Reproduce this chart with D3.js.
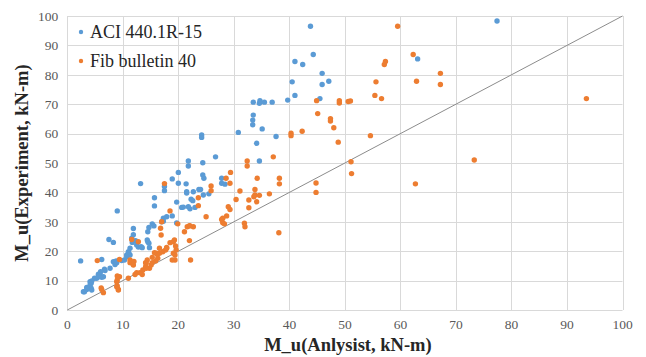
<!DOCTYPE html>
<html>
<head>
<meta charset="utf-8">
<script src="https://cdn.jsdelivr.net/npm/d3@7"></script>
<style>
  body { margin: 0; background: #fff; }
  svg { display: block; }
</style>
</head>
<body>
<div id="chart"></div>
<script>
// data: [analysis, experiment] in kN-m
const aciPoints = [
  [77.4, 98.3], [43.8, 96.5], [44.3, 86.9], [41, 84.5], [42.4, 83.5], [45.9, 80.5], [40.5, 77.6],
  [45.9, 76.7], [47.1, 77.8], [41, 73], [45.5, 71.9], [39.7, 71.4], [63.1, 85.4],
  [33.5, 70.7], [34.6, 70.3], [35.5, 70.7], [36.9, 70.7], [34.7, 71.2],
  [33.5, 66.3], [33.4, 64.6], [33.4, 63], [30.8, 60.4], [35.1, 61.6], [37.6, 59], [34.1, 56.7],
  [24.2, 59.5], [24.2, 58.7], [26.7, 52.1], [21.8, 50.7], [21.8, 49], [24.4, 50.1], [34.6, 50.7],
  [24.4, 45.9], [24.6, 44.8], [27.8, 44.8], [27.8, 43.1], [28.4, 42.8], [21.4, 42.9],
  [24, 41], [22.7, 40.2], [21.5, 40.2], [24.5, 39.1], [22.3, 37.7], [22.6, 37.2], [20.6, 34.9],
  [22.1, 34.4], [25.5, 39.5], [20, 46.8], [18.9, 44.6], [13.2, 43], [17.5, 42], [17.5, 40.6],
  [20, 43.1], [21.5, 39.8], [15.7, 38.2], [15.7, 35.4], [19.7, 36.7], [20.9, 35], [9, 33.7],
  [17.3, 31.2], [17.9, 31.7], [18.9, 32], [23.7, 41], [17.3, 30.2], [17, 30], [19.7, 29.6],
  [21.8, 35.1], [23, 34.9], [14.7, 28.1], [15.3, 29.3], [15.6, 28.6], [14.5, 26.6], [11.9, 27.7],
  [11.9, 25.6], [7.5, 24], [8.3, 23], [11.6, 24.4], [11.7, 23], [13.5, 21.2], [12.8, 21.4],
  [11.3, 21], [11, 19.8], [11.1, 19.3], [10.7, 18.7], [11.3, 18.7], [10.7, 18.1], [14.5, 23.2],
  [14.4, 23.8], [14.8, 21.2], [12.3, 23.6], [12.5, 22.1], [13.3, 21.5], [14.7, 22.7],
  [2.4, 16.7], [6.2, 17.2], [8.3, 16.4], [8.8, 16.7], [8.6, 15.5], [8.9, 16.1], [9.8, 16.8],
  [10.3, 17], [7.7, 14.2], [6.7, 13.9], [6.8, 13.4], [6, 13], [5.6, 12.2], [5.9, 11.9],
  [4.9, 10.8], [5.3, 10.8], [6.2, 11.1], [6.5, 11.3], [5.6, 11.3], [4.4, 9.9], [4.1, 9.6],
  [4.3, 9.1], [4.1, 8.5], [4.3, 7.4], [3.5, 7.7], [3.5, 7], [3.1, 6.2], [2.9, 6.2], [4.4, 6.8]
];

const fibPoints = [
  [59.5, 96.5], [62.3, 86.9], [67.2, 80.5], [67.2, 76.7], [62.9, 77.8], [57.3, 84.5], [57.1, 83.5],
  [55.6, 77.6], [55.4, 73], [56.6, 71.9], [51, 71.1], [50.6, 70.9], [49, 71.2], [49, 70.4],
  [44.9, 71.2], [45.1, 66.8], [47.4, 65.1], [47.4, 64.3], [48, 62], [42.3, 60.8], [40.3, 60.1],
  [40.3, 59.3], [48.8, 57.1], [54.6, 59.3], [51.1, 50.4], [51.2, 46.4], [73.3, 51], [44.8, 43.2],
  [44.8, 40], [62.7, 42.9], [93.5, 71.9],
  [37.1, 52.1], [32.4, 50.7], [32.4, 49], [29.4, 46.8], [34.2, 44.8], [38.2, 44.8], [38.2, 42.9],
  [28.6, 44.8], [29.3, 43.1], [25.9, 42.2], [25.9, 40.6], [31.1, 40.5], [33.8, 41], [33.8, 39.1],
  [34.6, 39], [36.4, 39.5], [23.6, 38.2], [23.6, 35.5], [30.4, 37.6], [32.7, 37.4], [33.6, 38.5],
  [32.7, 34.8], [29, 35.1], [29.3, 34.2], [25, 31.7], [28, 31.2], [34.1, 36.8], [28.7, 32],
  [27.8, 30.8], [28, 29.7], [28.3, 29.3], [22, 28.7], [21.6, 28.3], [21.1, 26.6], [22, 23.6],
  [22.2, 17], [31.9, 29.5], [32, 28.3], [38.1, 26.3], [17.5, 43], [18.5, 33.7],
  [5.4, 16.8], [6.2, 7], [6.5, 5.9], [6.1, 7.5], [9, 10.2], [9, 8.2], [9.2, 7], [8.9, 9.6],
  [8.9, 7.9], [9.2, 6.8], [9.4, 11.3], [9, 11.6], [11.6, 24], [12.8, 23.2], [11, 10.8],
  [12.5, 12.7], [13.1, 12.7], [13.6, 13.6], [12.2, 12.1], [9.4, 17.2], [11.3, 17], [11.7, 15.9],
  [11.3, 16.1], [12, 16.5], [11.9, 15.3], [14.1, 14.7], [14.8, 14.2], [15.1, 15.3], [15.3, 16.1],
  [15.9, 16.7], [16.3, 17.6], [16.6, 19.3], [17.2, 19.8], [17.7, 20.4], [17.9, 21], [16.9, 25.5],
  [16.8, 27.8], [17, 30], [18.5, 22.9], [19.1, 23.2], [19.6, 20.4], [19.4, 17], [22.7, 28.3],
  [22.1, 28.6], [19.9, 29.3], [14.1, 16.1], [14.4, 17], [15.3, 17.9], [16, 19.3], [16.6, 21],
  [17.9, 21.3], [19.3, 23.8], [18.9, 17], [19.4, 18.7], [19.5, 21.8], [19.1, 19.3], [14.2, 15.9],
  [14.2, 14.2], [16.2, 19], [15.7, 19.5], [13.5, 12.1]
];

const seriesNames = ['ACI 440.1R-15', 'Fib bulletin 40'];
const seriesColors = ['#5B9BD5', '#ED7D31'];
const tickValues = d3.range(0, 101, 10);
const xTitle = 'M_u(Anlysist, kN-m)';
const yTitle = 'M_u(Experiment, kN-m)';

const width = 646, height = 357;
const margin = { top: 16, right: 23.5, bottom: 47, left: 67.3 };

const svg = d3.select('#chart').append('svg')
  .attr('width', width)
  .attr('height', height);

const x = d3.scaleLinear().domain([0, 100]).range([margin.left, width - margin.right]);
const y = d3.scaleLinear().domain([0, 100]).range([height - margin.bottom, margin.top]);

// grid
svg.append('g')
  .selectAll('line')
  .data(tickValues)
  .join('line')
  .attr('x1', d => Math.round(x(d)) + 0.5).attr('x2', d => Math.round(x(d)) + 0.5)
  .attr('y1', y(0)).attr('y2', y(100))
  .attr('stroke', '#d9d9d9');

svg.append('g')
  .selectAll('line')
  .data(tickValues)
  .join('line')
  .attr('x1', x(0)).attr('x2', x(100))
  .attr('y1', d => Math.round(y(d)) + 0.5).attr('y2', d => Math.round(y(d)) + 0.5)
  .attr('stroke', '#d9d9d9');

// tick labels
const serif = '"Liberation Serif", "Times New Roman", serif';
svg.append('g')
  .selectAll('text')
  .data(tickValues)
  .join('text')
  .attr('x', d => x(d))
  .attr('y', y(0) + 19)
  .attr('text-anchor', 'middle')
  .style('font-family', serif)
  .style('font-size', '13.5px')
  .style('fill', '#595959')
  .text(d => d);

svg.append('g')
  .selectAll('text')
  .data(tickValues)
  .join('text')
  .attr('x', x(0) - 9)
  .attr('y', d => y(d))
  .attr('dy', '0.35em')
  .attr('text-anchor', 'end')
  .style('font-family', serif)
  .style('font-size', '13.5px')
  .style('fill', '#595959')
  .text(d => d);

// 1:1 line
svg.append('line')
  .attr('x1', x(0)).attr('y1', y(0))
  .attr('x2', x(100)).attr('y2', y(100))
  .attr('stroke', '#8c8c8c')
  .attr('stroke-width', 1);

// points
[aciPoints, fibPoints].forEach((pts, i) => {
  svg.append('g')
    .selectAll('circle')
    .data(pts)
    .join('circle')
    .attr('cx', d => x(d[0]))
    .attr('cy', d => y(d[1]))
    .attr('r', 2.7)
    .attr('fill', seriesColors[i]);
});

// legend
const legend = svg.append('g');
seriesNames.forEach((name, i) => {
  const ly = 32 + i * 29;
  legend.append('circle')
    .attr('cx', 81).attr('cy', ly).attr('r', 2.2)
    .attr('fill', seriesColors[i]);
  legend.append('text')
    .attr('x', 90).attr('y', ly)
    .attr('dy', '0.35em')
    .style('font-family', serif)
    .style('font-size', '18px')
    .style('fill', '#262626')
    .text(name);
});

// axis titles
svg.append('text')
  .attr('x', (x(0) + x(100)) / 2 + 3)
  .attr('y', 351)
  .attr('text-anchor', 'middle')
  .style('font-family', serif)
  .style('font-size', '18.5px')
  .style('font-weight', 'bold')
  .style('fill', '#262626')
  .text(xTitle);

svg.append('text')
  .attr('transform', `translate(28, ${(y(0) + y(100)) / 2}) rotate(-90)`)
  .attr('text-anchor', 'middle')
  .style('font-family', serif)
  .style('font-size', '18.5px')
  .style('font-weight', 'bold')
  .style('fill', '#262626')
  .text(yTitle);
</script>
</body>
</html>
